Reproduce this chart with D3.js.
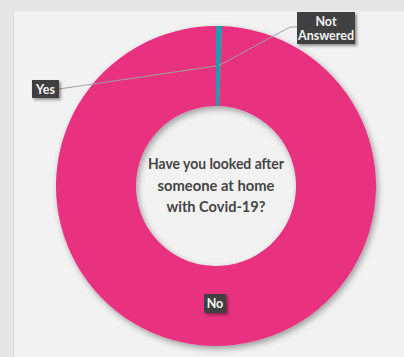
<!DOCTYPE html>
<html>
<head>
<meta charset="utf-8">
<script src="https://cdn.jsdelivr.net/npm/d3@7"></script>
<style>
  html, body { margin: 0; padding: 0; background: #e6e6e6; }
  svg { display: block; }
</style>
</head>
<body>
<svg id="chart" width="404" height="357"></svg>
<script>
// Survey answers, in slice order (clockwise from 12 o'clock)
const categories = ["Not Answered", "No", "Yes"];
const values = [2, 330, 0];
const colors = ["#12a0b0", "#e8307f", "#e8307f"];
const title = ["Have you looked after", "someone at home", "with Covid-19?"];

const svg = d3.select("#chart");
const W = 404, H = 357;
const cx = 216, cy = 186, outerR = 160, innerR = 80;

// light panel behind the chart
svg.append("rect").attr("x", 13).attr("y", 11).attr("width", W - 13).attr("height", H - 11)
  .attr("fill", "#f2f2f2");
svg.append("line").attr("x1", 13.5).attr("x2", 13.5).attr("y1", 11).attr("y2", H)
  .attr("stroke", "#d6d6d6");

const defs = svg.append("defs");
const sh = defs.append("filter").attr("id", "shadow").attr("x", "-20%").attr("y", "-20%")
  .attr("width", "140%").attr("height", "140%");
sh.append("feGaussianBlur").attr("in", "SourceAlpha").attr("stdDeviation", 3).attr("result", "b");
sh.append("feOffset").attr("dx", 2).attr("dy", 3).attr("result", "o");
sh.append("feComponentTransfer").append("feFuncA").attr("type", "linear").attr("slope", 0.35);
const m = sh.append("feMerge");
m.append("feMergeNode");
m.append("feMergeNode").attr("in", "SourceGraphic");

const lsh = defs.append("filter").attr("id", "lshadow").attr("x", "-30%").attr("y", "-30%")
  .attr("width", "160%").attr("height", "160%");
lsh.append("feGaussianBlur").attr("in", "SourceAlpha").attr("stdDeviation", 1.5);
lsh.append("feOffset").attr("dx", 1.5).attr("dy", 1.5);
lsh.append("feComponentTransfer").append("feFuncA").attr("type", "linear").attr("slope", 0.4);
const m2 = lsh.append("feMerge");
m2.append("feMergeNode");
m2.append("feMergeNode").attr("in", "SourceGraphic");

const pie = d3.pie().sort(null).value(d => d.value);
const data = pie(categories.map((c, i) => ({ name: c, value: values[i], color: colors[i] })));
const arc = d3.arc().innerRadius(innerR).outerRadius(outerR);
const mid = d3.arc().innerRadius((innerR + outerR) / 2).outerRadius((innerR + outerR) / 2);

const g = svg.append("g").attr("transform", `translate(${cx},${cy})`);
const ring = g.append("g").attr("filter", "url(#shadow)");
ring.selectAll("path").data(data).join("path")
  .attr("d", arc)
  .attr("fill", d => d.data.color);

// centre title
const t = g.append("text").attr("text-anchor", "middle")
  .attr("font-family", "Lato, 'Open Sans', sans-serif").attr("font-size", 15.5)
  .attr("font-weight", 700)
  .attr("fill", "#454545");
const titleWidths = [136, 117, 99];
title.forEach((line, i) => {
  t.append("tspan").attr("x", 0).attr("y", -17 + i * 21.5)
    .attr("textLength", titleWidths[i]).attr("lengthAdjust", "spacingAndGlyphs")
    .text(line);
});

// data labels with leader lines
const labelBoxes = {
  "Not Answered": { x: 297, y: 12, w: 58, h: 32, lines: ["Not", "Answered"], elbow: [290, 27], joinX: 297, joinY: 27 },
  "No": { x: 204, y: 294, w: 22, h: 19, lines: ["No"] },
  "Yes": { x: 32, y: 80, w: 27, h: 18, lines: ["Yes"], joinX: 59, joinY: 89 }
};

const leaders = svg.append("g").attr("fill", "none").attr("stroke", "#a0a0a0").attr("stroke-width", 1);
data.forEach(d => {
  const b = labelBoxes[d.data.name];
  if (b.joinX === undefined) return;
  const [px, py] = mid.centroid(d);
  const pts = [[cx + px, cy + py]];
  if (b.elbow) pts.push(b.elbow);
  pts.push([b.joinX, b.joinY]);
  leaders.append("path").attr("d", d3.line()(pts));
});

const labels = svg.append("g").attr("font-family", "Lato, 'Open Sans', sans-serif")
  .attr("font-size", 12.5).attr("font-weight", 700).attr("fill", "#f4f4f4");
data.forEach(d => {
  const b = labelBoxes[d.data.name];
  const lg = labels.append("g");
  lg.append("rect").attr("x", b.x).attr("y", b.y).attr("width", b.w).attr("height", b.h)
    .attr("fill", "#3f3f3f").attr("filter", "url(#lshadow)");
  const tx = lg.append("text").attr("text-anchor", "middle");
  b.lines.forEach((ln, i) => {
    tx.append("tspan").attr("x", b.x + b.w / 2)
      .attr("y", b.y + b.h / 2 + 4.5 + (i - (b.lines.length - 1) / 2) * 14)
      .text(ln);
  });
});
</script>
</body>
</html>
